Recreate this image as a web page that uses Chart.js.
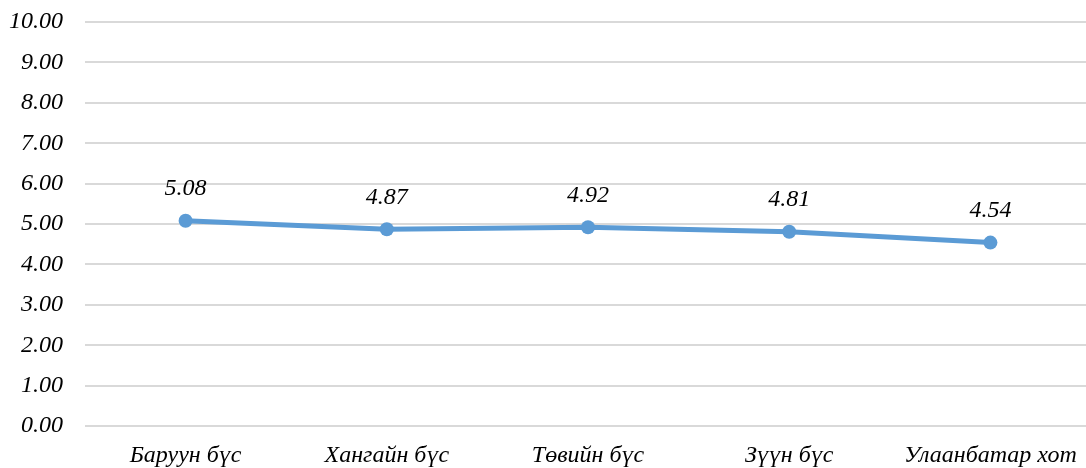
<!DOCTYPE html>
<html>
<head>
<meta charset="utf-8">
<script src="https://cdn.jsdelivr.net/npm/chart.js@4.4.1/dist/chart.umd.min.js"></script>
<style>
  html, body { margin: 0; padding: 0; background: #fff; overflow: hidden; }
  #wrap { width: 1098px; height: 468px; position: relative; }
</style>
</head>
<body>
<div id="wrap"><canvas id="myChart"></canvas></div>
<script>
const categories = ['Баруун бүс', 'Хангайн бүс', 'Төвийн бүс', 'Зүүн бүс', 'Улаанбатар хот'];
const values = [5.08, 4.87, 4.92, 4.81, 4.54];
const yMin = 0, yMax = 10, yStep = 1;

const fontFamily = '"Liberation Serif", "Times New Roman", serif';

// value labels above each point
const valueLabels = {
    id: 'valueLabels',
    afterDatasetsDraw(chart) {
        const ctx = chart.ctx;
        const meta = chart.getDatasetMeta(0);
        ctx.save();
        ctx.font = 'italic 24px ' + fontFamily;
        ctx.fillStyle = '#000';
        ctx.textAlign = 'center';
        ctx.textBaseline = 'middle';
        meta.data.forEach((pt, i) => {
            ctx.fillText(values[i].toFixed(2), pt.x, pt.y - 32);
        });
        ctx.restore();
    }
};

const ctx = document.getElementById('myChart').getContext('2d');
new Chart(ctx, {
    type: 'line',
    data: {
        labels: categories,
        datasets: [{
            data: values,
            borderColor: '#5B9BD5',
            backgroundColor: '#5B9BD5',
            borderWidth: 5,
            pointRadius: 7,
            pointHoverRadius: 7,
            pointBorderWidth: 0,
            tension: 0
        }]
    },
    options: {
        responsive: true,
        maintainAspectRatio: false,
        animation: false,
        layout: { padding: { top: 22, right: 0, bottom: 0, left: 0 } },
        plugins: { legend: { display: false }, tooltip: { enabled: false } },
        scales: {
            x: {
                offset: true,
                grid: { display: false, drawTicks: false },
                border: { display: false },
                ticks: {
                    color: '#000',
                    padding: 15,
                    maxRotation: 0,
                    font: { family: fontFamily, size: 24, style: 'italic' }
                },
                afterFit: s => {
                    s.height = 42;
                    s.paddingTop = 0; s.paddingBottom = 0;
                    s.paddingLeft = 0; s.paddingRight = 0;
                }
            },
            y: {
                min: yMin,
                max: yMax,
                ticks: {
                    stepSize: yStep,
                    color: '#000',
                    padding: 22,
                    font: { family: fontFamily, size: 24, style: 'italic' },
                    callback: v => v.toFixed(2)
                },
                grid: { color: '#d9d9d9', lineWidth: 2, drawTicks: false },
                border: { display: false },
                afterFit: s => {
                    s.width = 85;
                    s.paddingTop = 0; s.paddingBottom = 0;
                }
            }
        }
    },
    plugins: [valueLabels]
});
</script>
</body>
</html>
